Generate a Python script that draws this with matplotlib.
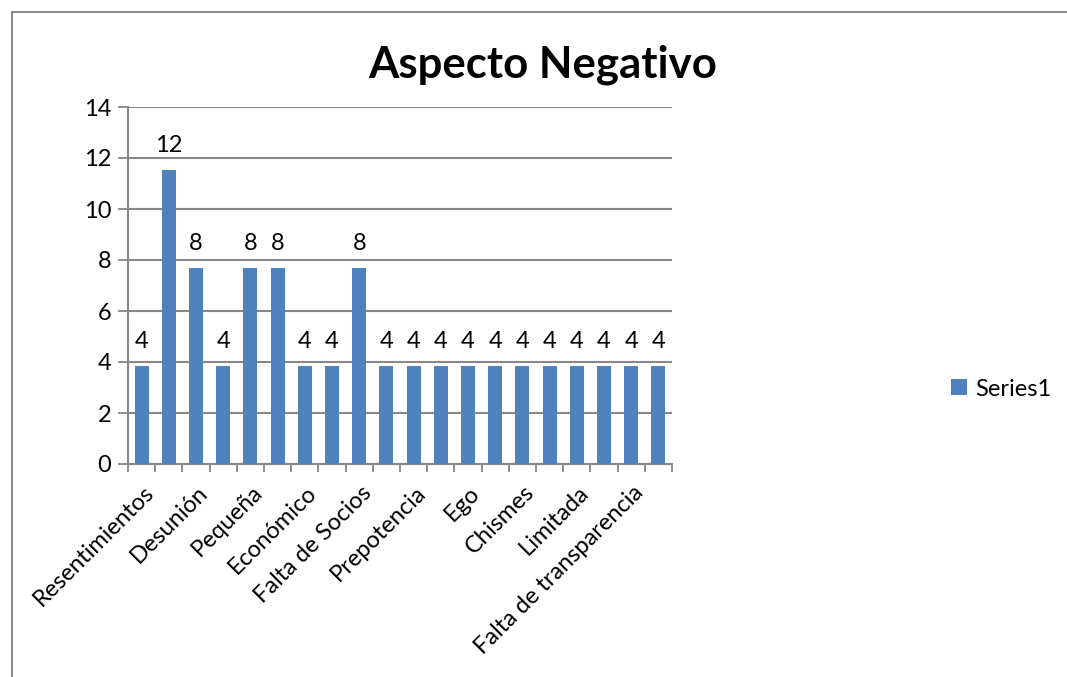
import matplotlib
matplotlib.use("Agg")
import matplotlib.pyplot as plt
from matplotlib.patches import Rectangle
import numpy as np

# Share of mentions (%) per negative aspect; only every second category name is shown on the axis
categories = ["Resentimientos", "", "Desunión", "", "Pequeña", "", "Económico", "",
              "Falta de Socios", "", "Prepotencia", "", "Ego", "", "Chismes", "",
              "Limitada", "", "Falta de transparencia", ""]
values = [3.85, 11.54, 7.69, 3.85, 7.69, 7.69, 3.85, 3.85, 7.69, 3.85,
          3.85, 3.85, 3.85, 3.85, 3.85, 3.85, 3.85, 3.85, 3.85, 3.85]
series_name = "Series1"
y_ticks = [0, 2, 4, 6, 8, 10, 12, 14]

plt.rcParams["font.family"] = ["Lato", "DejaVu Sans"]
BAR = "#4F81BD"
GRID = "#888888"
FS = 17

fig = plt.figure(figsize=(10.67, 6.77), dpi=100)
fig.patch.set_facecolor("white")

# chart frame
fig.add_artist(Rectangle((12 / 1067, -0.05), 1.2, 1 - 12 / 677 + 0.05,
                         transform=fig.transFigure, fill=False,
                         edgecolor="#8c8c8c", linewidth=1.5))

ax = fig.add_axes([128 / 1067, 1 - 464 / 677, (672 - 128) / 1067, (464 - 107) / 677])
x = np.arange(len(values))
bars = ax.bar(x, values, width=0.52, color=BAR, label=series_name, zorder=3)

ax.set_xlim(-0.5, len(values) - 0.5)
ax.set_ylim(0, 14)
ax.set_yticks(y_ticks)
ax.set_yticklabels([str(t) for t in y_ticks], fontsize=FS)
ax.yaxis.grid(True, color=GRID, linewidth=1.5, zorder=0)
ax.set_axisbelow(True)

for s in ("top", "right"):
    ax.spines[s].set_visible(False)
for s in ("left", "bottom"):
    ax.spines[s].set_color(GRID)
    ax.spines[s].set_linewidth(1.5)

# category boundary ticks
ax.set_xticks(np.arange(-0.5, len(values), 1.0), minor=False)
ax.set_xticklabels([])
ax.tick_params(axis="x", which="major", length=6, color=GRID, width=1.3)
ax.tick_params(axis="y", length=7, color=GRID, width=1.3, pad=5)

# category names under every second bar
for xi, name in zip(x, categories):
    if name:
        ax.text(xi + 0.05, -0.7, name, rotation=45, ha="right", va="top",
                rotation_mode="anchor", fontsize=FS)

for rect, v in zip(bars, values):
    ax.annotate(f"{v:.0f}", (rect.get_x() + rect.get_width() / 2, v),
                xytext=(0, 10), textcoords="offset points",
                ha="center", va="bottom", fontsize=FS)

fig.text(543 / 1067, 1 - 65 / 677, "Aspecto Negativo", ha="center", va="center",
         fontsize=31.5, fontweight="bold")

fig.legend(handles=[bars], labels=[series_name], loc="center left",
           bbox_to_anchor=(930 / 1067, 1 - 389 / 677), frameon=False,
           fontsize=FS, handlelength=0.65, handleheight=0.65, handletextpad=0.35)

fig.savefig("out.png", dpi=100)
